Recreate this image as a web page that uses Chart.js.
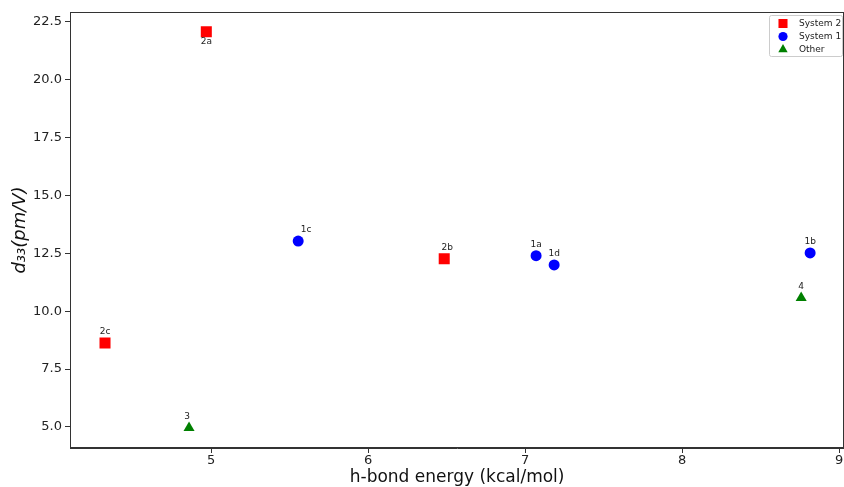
<!DOCTYPE html>
<html>
<head>
<meta charset="utf-8">
<script src="https://cdn.jsdelivr.net/npm/chart.js@4"></script>
<style>
html,body{margin:0;padding:0;background:#fff;overflow:hidden;}
#wrap{width:844px;height:487px;overflow:hidden;}
canvas{display:block;}
</style>
</head>
<body>
<div id="wrap"><canvas id="c" width="852" height="487"></canvas></div>
<script>
// ---- data ----
const system2Labels = ["2a", "2b", "2c"];
const system2X = [4.97, 6.485, 4.325];
const system2Y = [22.08, 12.27, 8.63];

const system1Labels = ["1c", "1a", "1d", "1b"];
const system1X = [5.555, 7.07, 7.185, 8.815];
const system1Y = [13.03, 12.40, 12.00, 12.52];

const otherLabels = ["3", "4"];
const otherX = [4.86, 8.758];
const otherY = [4.96, 10.58];

const xTicks = [5, 6, 7, 8, 9];
const yTicks = [5.0, 7.5, 10.0, 12.5, 15.0, 17.5, 20.0, 22.5];

const xTitle = "h-bond energy (kcal/mol)";
const yTitle = "d\u2083\u2083(pm/V)";

function pts(xs, ys, ls) { return xs.map((x, i) => ({x: x, y: ys[i], label: ls[i]})); }

const FONT = "'DejaVu Sans', sans-serif";
const AXIS = '#333333';

// label placement tweaks (style only)
const labelBelow = {"2a": true};
const labelShift = {"1c": 8, "2b": 3, "3": -2};

const pointLabelPlugin = {
  id: 'pointLabels',
  afterDatasetsDraw(chart) {
    const ctx = chart.ctx;
    ctx.save();
    ctx.font = "9px " + FONT;
    ctx.fillStyle = "#222";
    ctx.textAlign = "center";
    chart.data.datasets.forEach((ds, di) => {
      const meta = chart.getDatasetMeta(di);
      meta.data.forEach((el, i) => {
        const lab = ds.data[i].label;
        const dx = labelShift[lab] || 0;
        if (labelBelow[lab]) {
          ctx.textBaseline = "top";
          ctx.fillText(lab, el.x + dx, el.y + 5);
        } else {
          ctx.textBaseline = "bottom";
          ctx.fillText(lab, el.x + dx, el.y - 7);
        }
      });
    });
    ctx.restore();
  }
};

const framePlugin = {
  id: 'frame',
  afterDraw(chart) {
    const a = chart.chartArea, ctx = chart.ctx;
    ctx.save();
    ctx.strokeStyle = AXIS;
    ctx.lineWidth = 1;
    ctx.strokeRect(Math.round(a.left) + 0.5, Math.round(a.top) + 0.5,
                   Math.round(a.right - a.left) - 1, Math.round(a.bottom - a.top) - 1);
    // legend inside top-right
    const items = chart.data.datasets;
    const bw = 73, bh = 41;
    const bx = Math.round(a.right) - bw - 2, by = Math.round(a.top) + 3;
    ctx.fillStyle = "rgba(255,255,255,0.85)";
    ctx.strokeStyle = "#cccccc";
    ctx.beginPath();
    if (ctx.roundRect) ctx.roundRect(bx + 0.5, by + 0.5, bw, bh, 2); else ctx.rect(bx + 0.5, by + 0.5, bw, bh);
    ctx.fill(); ctx.stroke();
    ctx.font = "9px " + FONT;
    ctx.textBaseline = "middle";
    ctx.textAlign = "left";
    items.forEach((ds, i) => {
      const cy = by + 8.5 + i * 13;
      const cx = bx + 14;
      ctx.fillStyle = ds.backgroundColor;
      ctx.beginPath();
      const r = ds.legendRadius;
      if (ds.pointStyle === 'rect') {
        const s = Math.SQRT1_2 * r; ctx.rect(cx - s, cy - s, 2 * s, 2 * s);
      } else if (ds.pointStyle === 'circle') {
        ctx.arc(cx, cy, r, 0, Math.PI * 2);
      } else {
        ctx.moveTo(cx, cy - r);
        ctx.lineTo(cx + r * 0.866, cy + r * 0.5);
        ctx.lineTo(cx - r * 0.866, cy + r * 0.5);
        ctx.closePath();
      }
      ctx.fill();
      ctx.fillStyle = "#222";
      ctx.fillText(ds.label, bx + 30, cy + 0.5);
    });
    ctx.restore();
  }
};

new Chart(document.getElementById('c'), {
  type: 'scatter',
  data: {
    datasets: [
      { label: "System 2", data: pts(system2X, system2Y, system2Labels), pointStyle: 'rect',
        pointRadius: 7.8, pointHoverRadius: 7.8, backgroundColor: '#ff0000', borderColor: '#ff0000', borderWidth: 0, legendRadius: 6.4 },
      { label: "System 1", data: pts(system1X, system1Y, system1Labels), pointStyle: 'circle',
        pointRadius: 5.5, pointHoverRadius: 5.5, backgroundColor: '#0000ff', borderColor: '#0000ff', borderWidth: 0, legendRadius: 4.6 },
      { label: "Other", data: pts(otherX, otherY, otherLabels), pointStyle: 'triangle',
        pointRadius: 6.4, pointHoverRadius: 6.4, backgroundColor: '#008000', borderColor: '#008000', borderWidth: 0, legendRadius: 5.4 }
    ]
  },
  options: {
    responsive: false,
    animation: false,
    events: [],
    layout: { padding: { top: 12, right: 1, left: 0, bottom: 0 } },
    plugins: { legend: { display: false }, tooltip: { enabled: false } },
    scales: {
      x: {
        type: 'linear', min: 4.102, max: 9.032,
        afterBuildTicks: s => { s.ticks = xTicks.map(v => ({value: v})); },
        afterFit: s => { s.height = 39; },
        grid: { drawOnChartArea: false, tickLength: 5, tickColor: AXIS, color: AXIS },
        border: { color: AXIS },
        ticks: { font: { family: FONT, size: 13 }, color: '#222', padding: 0, maxRotation: 0,
                 callback: v => String(v) },
        title: { display: true, text: xTitle, font: { family: FONT, size: 17, lineHeight: 1.05 }, color: '#111',
                 padding: { top: 0, bottom: 0 } }
      },
      y: {
        type: 'linear', min: 4.09, max: 22.93,
        afterBuildTicks: s => { s.ticks = yTicks.map(v => ({value: v})); },
        afterFit: s => { s.width = 70; },
        grid: { drawOnChartArea: false, tickLength: 5, tickColor: AXIS, color: AXIS },
        border: { color: AXIS },
        ticks: { font: { family: FONT, size: 13 }, color: '#222', padding: 3,
                 callback: v => Number(v).toFixed(1) },
        title: { display: true, text: yTitle, font: { family: FONT, size: 18, style: 'italic' }, color: '#111',
                 padding: { top: 10, bottom: 0 } }
      }
    }
  },
  plugins: [pointLabelPlugin, framePlugin]
});
</script>
</body>
</html>
